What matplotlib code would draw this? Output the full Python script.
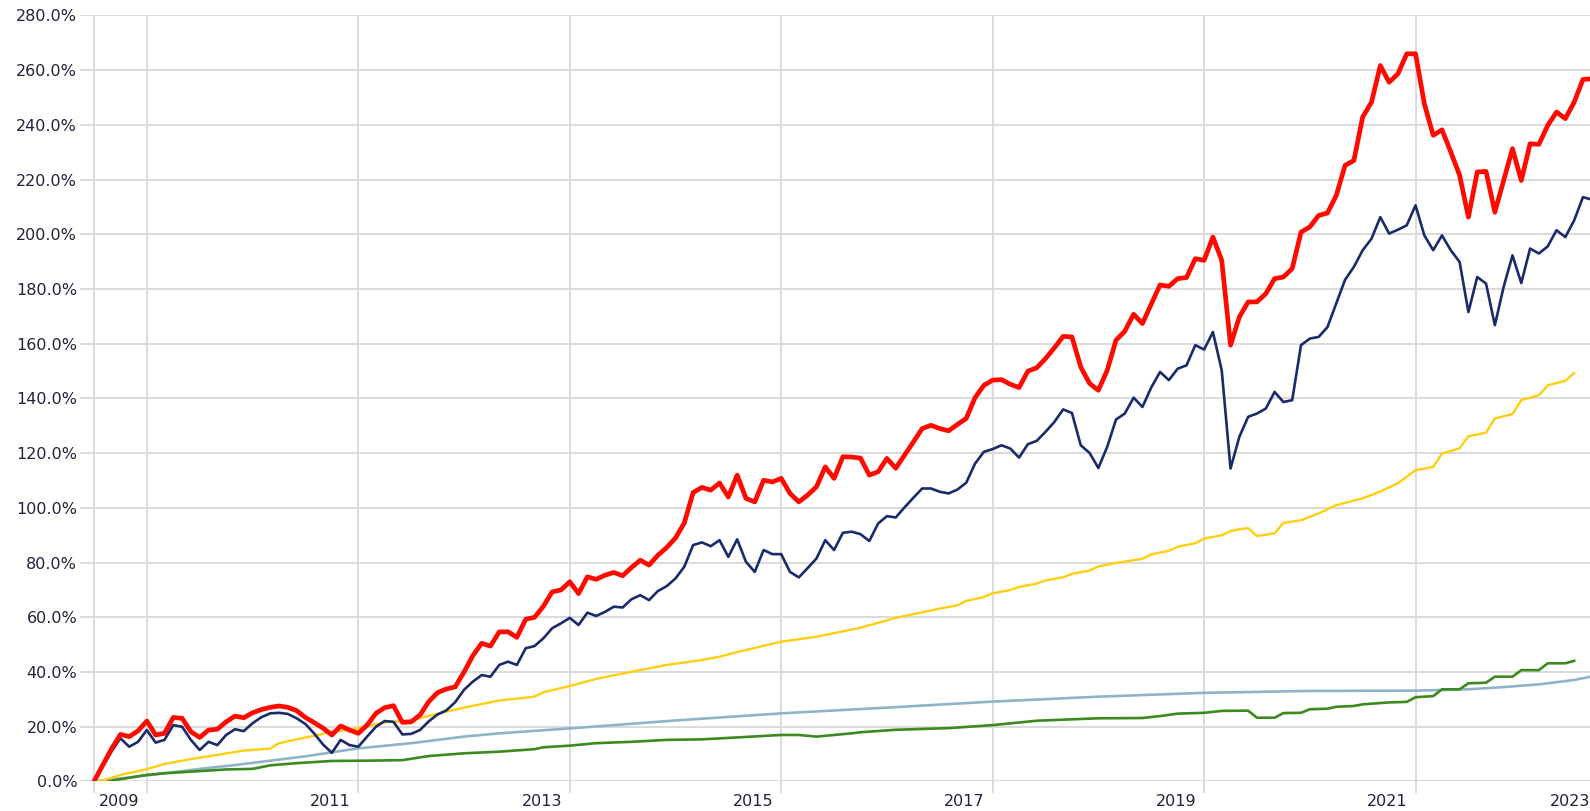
import numpy as np
import matplotlib
matplotlib.use('Agg')
import matplotlib.pyplot as plt
import matplotlib.transforms as mtransforms

# primer dato: julio 2008, un punto por mes
inicio = 2008.5

rojo = [0, 6, 12, 17.2, 16.4, 18.5, 22.1, 17, 17.6, 23.4, 23.1, 18.2, 16.1, 18.8, 19.1, 21.8,
        23.9, 23.3, 25.1, 26.3, 27.1, 27.6, 27.1, 25.9, 23.4, 21.5, 19.5, 17, 20.3, 18.8, 17.6,
        20.6, 24.9, 27, 27.7, 21.6, 21.8, 24.3, 29.2, 32.5, 33.8, 34.6, 40, 46, 50.5, 49.5, 54.7,
        54.7, 52.7, 59.3, 60, 64, 69.3, 70, 73, 68.7, 74.8, 73.9, 75.4, 76.4, 75.2, 78.2, 80.9,
        79.1, 82.7, 85.5, 89, 94.5, 105.6, 107.5, 106.5, 109.1, 104, 112, 103.5, 102.2, 110.1,
        109.5, 110.8, 105.3, 102.2, 104.7, 107.7, 115, 110.8, 118.7, 118.6, 118.2, 112, 113.2,
        118.1, 114.5, 119.3, 124.1, 129, 130.2, 129, 128.2, 130.5, 132.7, 140.3, 144.8, 146.7,
        146.9, 145.2, 144, 150, 151.2, 154.6, 158.5, 162.7, 162.5, 151.5, 145.5, 143, 150.3,
        161.3, 164.6, 170.8, 167.4, 174.5, 181.5, 181, 183.8, 184.2, 191.1, 190.5, 199, 190.5,
        159.5, 169.8, 175.3, 175.3, 178.3, 183.8, 184.4, 187.5, 200.8, 202.7, 206.9, 207.8,
        214.2, 225.2, 227, 242.9, 248.3, 261.7, 255.6, 258.7, 266, 266, 247.7, 236.2, 238.2,
        230.1, 221.6, 206.3, 222.8, 223, 208.1, 219.7, 231.3, 219.7, 233.1, 232.9, 239.8, 244.7,
        242.3, 248.3, 256.6, 256.9]

azul = [0, 5.5, 11, 15.8, 12.7, 14.5, 18.8, 14.2, 15.2, 20.6, 20, 15.2, 11.5, 14.5, 13.3, 17,
        19.1, 18.4, 21.3, 23.5, 24.9, 25.1, 24.7, 23.1, 21, 17.5, 13.5, 10.5, 15.2, 13.3, 12.7,
        16.4, 20, 22.1, 21.8, 17.2, 17.4, 18.8, 22, 24.5, 26, 29, 33.5, 36.5, 38.9, 38.3, 42.6,
        43.8, 42.6, 48.7, 49.5, 52.3, 56, 57.8, 59.8, 57.2, 61.7, 60.5, 62, 63.9, 63.6, 66.6,
        68.1, 66.3, 69.6, 71.4, 74.2, 78.5, 86.4, 87.4, 86, 88.2, 82.1, 88.5, 80.3, 76.6, 84.6,
        83.1, 83.1, 76.6, 74.6, 78, 81.5, 88.2, 84.6, 90.9, 91.3, 90.4, 87.9, 94.3, 97, 96.5,
        100.2, 103.7, 107.1, 107.1, 105.9, 105.3, 106.7, 109.2, 116.2, 120.5, 121.5, 122.9,
        121.7, 118.4, 123.3, 124.5, 127.8, 131.4, 136, 134.7, 122.9, 120.1, 114.6, 122.3, 132.3,
        134.5, 140.3, 136.9, 144, 149.7, 146.7, 150.9, 152.1, 159.5, 157.9, 164.3, 150.3, 114.4,
        126, 133.3, 134.5, 136.3, 142.4, 138.7, 139.4, 159.5, 161.9, 162.5, 166.1, 174.7, 183.4,
        188.1, 194.2, 198.4, 206.3, 200.3, 201.7, 203.3, 210.6, 199.6, 194.2, 199.6, 194.2,
        189.9, 171.6, 184.4, 182, 166.8, 180.8, 192.3, 182.2, 194.8, 193, 195.6, 201.5, 199,
        205.1, 213.6, 212.7]

amarillo_mes = [0, 1, 3, 6, 8, 11, 12, 14, 17, 20, 21, 23, 25, 27, 29, 31, 33, 36, 38, 40, 42,
                46, 50, 51, 54, 57, 61, 65, 69, 71, 73, 78, 82, 87, 91, 96, 98, 99, 101, 102,
                104, 105, 107, 108, 110, 111, 113, 114, 116, 119, 120, 122, 123, 125, 126, 128,
                129, 130, 131, 132, 134, 135, 137, 139, 141, 144, 146, 148, 150, 152, 153, 155,
                156, 158, 159, 161, 162, 164, 165, 167, 168]
amarillo = [0, 0.3, 2.4, 4.5, 6.4, 8.2, 8.7, 9.7, 11.3, 12, 14, 15.4, 16.7, 18.2, 18.8, 20.3,
            21.6, 22.3, 24, 25.5, 27, 29.6, 31, 32.6, 34.9, 37.5, 40.1, 42.6, 44.4, 45.6, 47.3,
            51.1, 52.9, 56.2, 59.8, 63.2, 64.4, 66, 67.4, 68.8, 70, 71.1, 72.3, 73.5, 74.6, 75.9,
            77.1, 78.6, 79.9, 81.4, 83, 84.3, 85.8, 87.1, 88.8, 90, 91.5, 92.2, 92.6, 89.7,
            90.7, 94.5, 95.5, 98, 101, 103.5, 106, 109, 113.8, 115, 119.9, 121.8, 126.2, 127.5,
            132.7, 134.3, 139.4, 141.2, 144.8, 146.5, 149.3]

verde_mes = [0, 2, 5, 6, 8, 12, 15, 18, 20, 23, 27, 31, 35, 38, 42, 46, 50, 51, 54, 57, 61, 65,
             69, 73, 78, 80, 82, 86, 87, 91, 97, 102, 107, 114, 119, 121, 123, 126, 128, 131,
             132, 134, 135, 137, 138, 140, 141, 143, 144, 147, 149, 150, 152, 153, 155, 156,
             158, 159, 161, 162, 164, 165, 167, 168]
verde = [0, 0.3, 1.9, 2.4, 3, 3.8, 4.4, 4.6, 5.9, 6.7, 7.5, 7.6, 7.8, 9.3, 10.3, 10.9, 11.8,
         12.5, 13.1, 14, 14.5, 15.2, 15.4, 16.1, 17, 17, 16.4, 17.6, 18, 18.9, 19.5, 20.6, 22.2,
         23.1, 23.2, 23.9, 24.8, 25.1, 25.8, 25.9, 23.3, 23.3, 25, 25.1, 26.4, 26.6, 27.3, 27.6,
         28.2, 28.9, 29.1, 30.8, 31.2, 33.7, 33.7, 35.9, 36.1, 38.3, 38.3, 40.7, 40.7, 43.2,
         43.2, 44.1]

celeste_mes = [0, 6, 12, 16, 24, 30, 36, 42, 46, 54, 66, 78, 90, 102, 114, 126, 138, 150, 156,
               160, 164, 168, 170]
celeste = [0, 2.2, 4.6, 6, 9.2, 12.1, 14, 16.4, 17.6, 19.4, 22.3, 24.9, 27, 29.2, 31, 32.4,
           33.1, 33.2, 33.7, 34.5, 35.5, 37.1, 38.4]

anios = [2009, 2011, 2013, 2015, 2017, 2019, 2021, 2023]
etiquetas_y = np.arange(0, 281, 20)


def a_anio(meses):
    return inicio + np.asarray(meses) / 12.0


def grafico():
    fig = plt.figure(figsize=(15.9, 8.11), dpi=100)
    ax = fig.add_axes([0.0503, 0.0364, 0.9497, 0.9445])
    gris = '#dadada'
    texto = '#22223a'

    ax.plot(a_anio(celeste_mes), celeste, color='#8fb4c9', lw=1.9, solid_joinstyle='round')
    ax.plot(a_anio(verde_mes), verde, color='#3b8a1f', lw=1.9, solid_joinstyle='round')
    ax.plot(a_anio(amarillo_mes), amarillo, color='#ffcf0f', lw=1.7, solid_joinstyle='round')
    ax.plot(a_anio(range(len(azul))), azul, color='#1b2a68', lw=1.9, solid_joinstyle='round')
    ax.plot(a_anio(range(len(rojo))), rojo, color='#ff0a00', lw=3.4, solid_joinstyle='round')

    xmin = inicio - 1.59 / 12
    xmax = inicio + 169.8 / 12
    ax.set_xlim(xmin, xmax)
    ax.set_ylim(0, 280)

    ax.set_xticks([inicio] + [a for a in anios if a < xmax])
    ax.set_xticklabels([])
    ax.tick_params(axis='x', length=8.3, width=1.4, color=gris)
    ax.set_yticks(etiquetas_y)
    ax.set_yticklabels(['%.1f%%' % v for v in etiquetas_y], fontsize=11.5, color=texto)
    ax.tick_params(axis='y', length=0, pad=2)
    ax.grid(True, color=gris, lw=1.4)
    ax.set_axisbelow(True)
    for s in ax.spines.values():
        s.set_visible(False)

    trans = mtransforms.blended_transform_factory(ax.transData, ax.transAxes)
    for a in anios:
        lx = a - 0.265
        if lx + 0.18 > xmax:
            ax.text(xmax, -0.0262, str(a), transform=trans, ha='right', va='center',
                    fontsize=11.5, color=texto)
        else:
            ax.text(lx, -0.0262, str(a), transform=trans, ha='center', va='center',
                    fontsize=11.5, color=texto)

    fig.savefig('out.png', dpi=100, facecolor='white')


grafico()
